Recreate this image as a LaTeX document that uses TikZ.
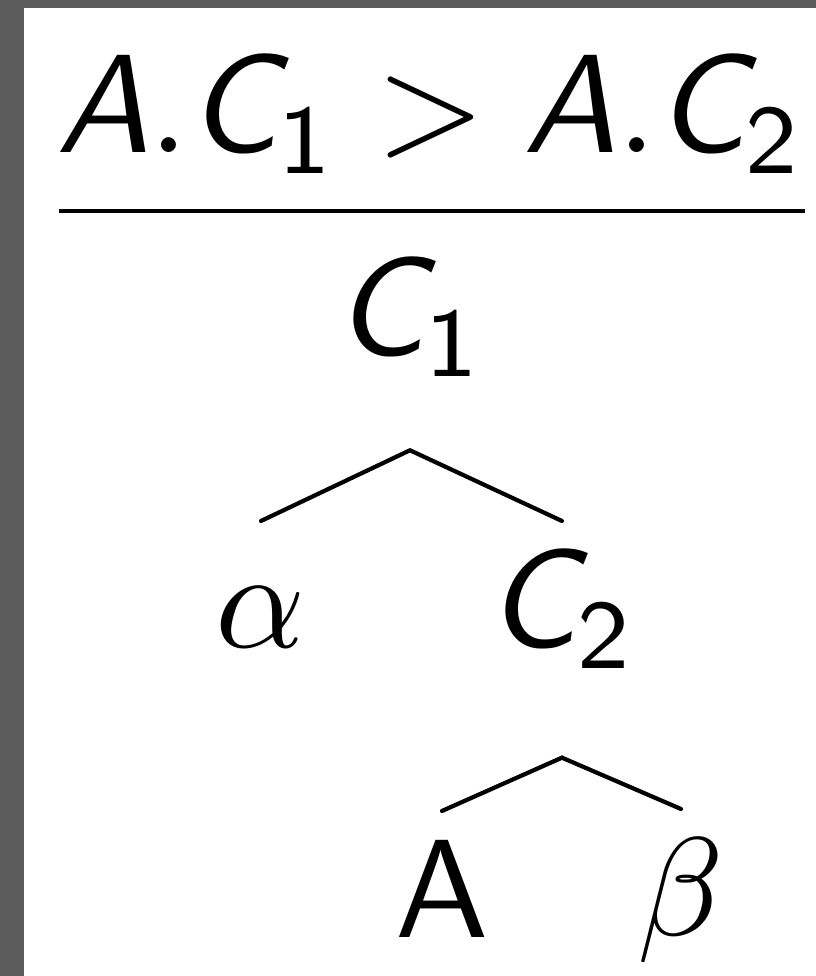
\documentclass[tikz,border=0pt]{standalone}
\DeclareMathAlphabet{\mathsfit}{OT1}{cmss}{m}{sl}
\newcommand{\sv}[1]{\mathsfit{#1}}
\definecolor{framegray}{RGB}{92,92,92}
\tikzset{
  term/.style={inner sep=0pt, anchor=base},
  tnode/.style={inner sep=0pt, text height=8.8pt, text depth=7.7pt, anchor=base},
  branch/.style={line width=0.3pt, line cap=round},
  fracline/.style={line width=0.3pt, shorten <=0.4pt, shorten >=0.2pt},
}
\begin{document}
\begin{tikzpicture}[x=7.14pt, y=-7.14pt]
  \fill[framegray] (0,0) rectangle (8.16,9.76);
  \fill[white] (0.24,0.08) rectangle (8.16,9.76);
  \useasboundingbox (0,0) rectangle (8.16,9.76);
  % rule
  \node[term] (num) at (4.305,1.52) {$\sv{A}.\sv{C}_{\mathsf{1}} > \sv{A}.\sv{C}_{\mathsf{2}}$};
  \draw[fracline] (num.west |- 0,2.11) -- (num.east |- 0,2.11);
  % tree
  \node[tnode, text depth=6.6pt] (c1) at (4.10,3.55) {$\sv{C}_{\mathsf{1}}$};
  \node[tnode] (al) at (2.61,6.47) {$\alpha$};
  \node[tnode] (c2) at (5.62,6.47) {$\sv{C}_{\mathsf{2}}$};
  \node[tnode] (a)  at (4.42,9.37) {$\mathsf{A}$};
  \node[tnode] (be) at (6.81,9.35) {$\beta$};
  \foreach \ch in {al,c2} { \draw[branch] (c1.south) -- (\ch.north); }
  \foreach \ch in {a,be} { \draw[branch] (c2.south) -- (\ch.north); }
\end{tikzpicture}
\end{document}
